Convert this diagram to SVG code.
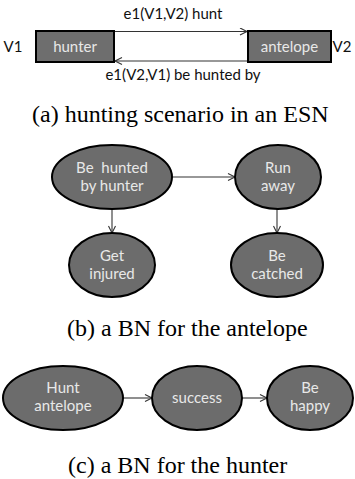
<svg xmlns="http://www.w3.org/2000/svg" width="355" height="479" viewBox="0 0 355 479">
<style>
.box{fill:#6e6e6e;stroke:#000;stroke-width:2}
.nd{fill:#6c6c6c;stroke:#000;stroke-width:2}
.lbl{font-family:Lato,"Liberation Sans",sans-serif;font-size:15px;fill:#111;text-anchor:middle}
.nt{font-family:Lato,"Liberation Sans",sans-serif;font-size:15px;fill:#e8e8e8;text-anchor:middle}
.cap{font-family:"Liberation Serif",serif;font-size:24px;fill:#000}
.ln{stroke:#333;stroke-width:1.1;fill:none;marker-end:url(#ah)}
</style>
<defs>
<marker id="ah" markerUnits="userSpaceOnUse" markerWidth="10" markerHeight="10" refX="8" refY="4" orient="auto">
<path d="M1,0.5 L8,4 L1,7.5" fill="none" stroke="#333" stroke-width="1.1"/>
</marker>
</defs>
<g id="connectors">
<line class="ln" x1="114" y1="31.5" x2="247" y2="31.5"/>
<line class="ln" x1="247" y1="61" x2="115" y2="61"/>
<line class="ln" x1="172" y1="177" x2="235" y2="177"/>
<line class="ln" x1="112" y1="209" x2="112" y2="233"/>
<line class="ln" x1="277" y1="209" x2="277" y2="233"/>
<line class="ln" x1="123" y1="398" x2="152" y2="398"/>
<line class="ln" x1="242" y1="398" x2="267" y2="398"/>
</g>
<g id="edge-labels">
<text class="lbl" x="173" y="19">e1(V1,V2) hunt</text>
<text class="lbl" x="183" y="80">e1(V2,V1) be hunted by</text>
<text class="lbl" x="13" y="52">V1</text>
<text class="lbl" x="342" y="52">V2</text>
</g>
<g id="hunter"><rect class="box" x="36" y="31" width="78" height="31"/><text class="nt" x="75" y="52">hunter</text></g>
<g id="antelope"><rect class="box" x="248" y="31" width="83" height="31"/><text class="nt" x="289.5" y="52">antelope</text></g>
<text class="cap" x="32" y="122">(a)<tspan dx="6">hunting scenario in an ESN</tspan></text>
<g id="be-hunted"><ellipse class="nd" cx="112" cy="177" rx="60" ry="32"/><text class="nt" x="112" y="173" xml:space="preserve">Be  hunted</text><text class="nt" x="112" y="191">by hunter</text></g>
<g id="run-away"><ellipse class="nd" cx="278" cy="177" rx="43" ry="32"/><text class="nt" x="278" y="173">Run</text><text class="nt" x="278" y="191">away</text></g>
<g id="get-injured"><ellipse class="nd" cx="112" cy="265" rx="43" ry="32"/><text class="nt" x="112" y="261">Get</text><text class="nt" x="112" y="279">injured</text></g>
<g id="be-catched"><ellipse class="nd" cx="277" cy="265" rx="46" ry="32"/><text class="nt" x="277" y="261">Be</text><text class="nt" x="277" y="279">catched</text></g>
<text class="cap" x="67" y="336">(b)<tspan dx="6">a BN for the antelope</tspan></text>
<g id="hunt-antelope"><ellipse class="nd" cx="63" cy="398" rx="60" ry="32"/><text class="nt" x="63" y="393">Hunt</text><text class="nt" x="63" y="411">antelope</text></g>
<g id="success"><ellipse class="nd" cx="197" cy="398" rx="45" ry="32"/><text class="nt" x="197" y="403">success</text></g>
<g id="be-happy"><ellipse class="nd" cx="310" cy="398" rx="43" ry="32"/><text class="nt" x="310" y="393">Be</text><text class="nt" x="310" y="411">happy</text></g>
<text class="cap" x="68" y="473">(c)<tspan dx="6">a BN for the hunter</tspan></text>
</svg>
